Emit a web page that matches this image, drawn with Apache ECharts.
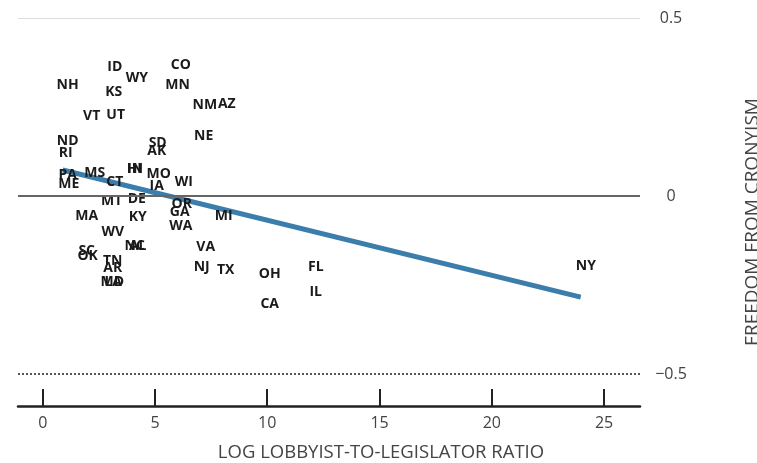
<!DOCTYPE html>
<html>
<head>
<meta charset="utf-8">
<script src="https://cdn.jsdelivr.net/npm/echarts@6/dist/echarts.min.js"></script>
<style>
html,body{margin:0;padding:0;background:#fff}
#chart{width:757px;height:463px}
</style>
</head>
<body>
<div id="chart"></div>
<script>
// state labels, log lobbyist ratio, freedom from cronyism
var states = ['NH','ID','WY','KS','CO','MN','NM','AZ','VT','UT','ND','RI','SD','AK','NE','PA','ME','MS','CT','HI','IN','MO','IA','WI','MT','DE','OR','GA','MA','KY','WA','MI','WV','NC','AL','VA','SC','OK','TN','AR','NJ','TX','MD','LA','OH','FL','IL','CA','NY']
var ratio = [1.11,3.21,4.19,3.16,6.15,6.01,7.22,8.2,2.18,3.25,1.11,1.02,5.12,5.08,7.17,1.11,1.16,2.32,3.21,4.08,4.12,5.17,5.08,6.28,3.07,4.19,6.19,6.1,1.96,4.23,6.15,8.06,3.12,4.1,4.23,7.26,1.96,2.0,3.12,3.12,7.08,8.15,3.1,3.14,10.11,12.16,12.16,10.11,24.19]
var freedom = [0.312,0.362,0.331,0.292,0.368,0.312,0.256,0.258,0.225,0.228,0.154,0.121,0.149,0.126,0.169,0.059,0.034,0.065,0.039,0.077,0.075,0.062,0.028,0.039,-0.014,-0.008,-0.022,-0.045,-0.056,-0.059,-0.084,-0.056,-0.101,-0.14,-0.14,-0.143,-0.154,-0.169,-0.183,-0.202,-0.199,-0.208,-0.242,-0.242,-0.219,-0.199,-0.27,-0.303,-0.197]
var trendX = [0.89, 23.96]
var trendY = [0.073, -0.284]
var xTicks = [0,5,10,15,20,25]
var yTicks = [-0.5,0,0.5]

var pts = []
for (var i = 0; i < states.length; i++) {
    pts.push([ratio[i], freedom[i], states[i]])
}
var trend = []
for (var j = 0; j < trendX.length; j++) {
    trend.push([trendX[j], trendY[j]])
}

var myChart = echarts.init(document.getElementById('chart'))
var option = {
    animation: false,
    grid: {left: 18, right: 117, top: 18, bottom: 57},
    xAxis: {
        type: 'value',
        min: -1.1,
        max: 26.6,
        axisLine: {show: true, onZero: false, lineStyle: {color: '#222', width: 2.5}},
        axisTick: {show: true, inside: true, length: 17, customValues: xTicks, lineStyle: {color: '#222', width: 2}},
        axisLabel: {customValues: xTicks, color: '#444', fontSize: 16, fontFamily: 'Open Sans', margin: 9},
        splitLine: {show: false}
    },
    yAxis: {
        type: 'value',
        position: 'right',
        min: -0.59,
        max: 0.5,
        axisLine: {show: false},
        axisTick: {show: false},
        axisLabel: {
            customValues: yTicks, color: '#444', fontSize: 16, fontFamily: 'Open Sans',
            align: 'center', margin: 31,
            formatter: function (v) { return v < 0 ? '\u2212' + Math.abs(v) : String(v) }
        },
        splitLine: {show: false}
    },
    series: [
        {
            type: 'line',
            data: trend,
            symbol: 'none',
            z: 2,
            lineStyle: {color: '#3b7dab', width: 5},
            markLine: {
                silent: true,
                symbol: 'none',
                label: {show: false},
                data: [
                    {yAxis: 0.5, lineStyle: {color: '#dcdcdc', width: 1, type: 'solid'}},
                    {yAxis: 0, lineStyle: {color: '#666', width: 2, type: 'solid'}},
                    {yAxis: -0.5, lineStyle: {color: '#555', width: 2, type: [2, 2]}}
                ]
            }
        },
        {
            type: 'scatter',
            data: pts,
            symbolSize: 0,
            z: 3,
            itemStyle: {opacity: 1},
            label: {
                show: true,
                position: 'inside',
                formatter: function (p) { return p.data[2] },
                color: '#1a1a1a',
                opacity: 1,
                textBorderWidth: 0,
                fontSize: 14,
                fontWeight: 'bold',
                fontFamily: 'Open Sans'
            }
        }
    ],
    graphic: [
        {
            type: 'text',
            x: 381, y: 453,
            style: {text: 'LOG LOBBYIST-TO-LEGISLATOR RATIO', fill: '#444', fontSize: 18.5, fontFamily: 'Open Sans', align: 'center', verticalAlign: 'middle'}
        },
        {
            type: 'text',
            x: 753, y: 222,
            rotation: Math.PI / 2,
            style: {text: 'FREEDOM FROM CRONYISM', fill: '#444', fontSize: 19, fontFamily: 'Open Sans', align: 'center', verticalAlign: 'middle'}
        }
    ]
}
option && myChart.setOption(option)
</script>
</body>
</html>
